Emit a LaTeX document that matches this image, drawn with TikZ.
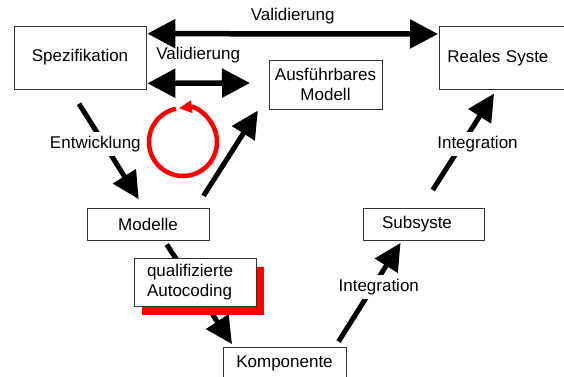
\documentclass[tikz,border=0pt]{standalone}
\usepackage{fontspec}
\setmainfont{Liberation Sans}
\usepackage{tikz}
\usetikzlibrary{arrows.meta,positioning,shadows,calc}
\pgfdeclarelayer{background}
\pgfsetlayers{background,main}
\tikzset{
    frame color/.style={black!80},
    stage box/.style={draw=black!80,line width=0.7pt,fill=white,inner sep=0pt,minimum height=32pt},
    arr/.style={-{Triangle[length=27pt,width=26pt]},line width=5pt},
    darr/.style={{Triangle[length=28pt,width=28pt]}-{Triangle[length=28pt,width=28pt]},line width=5.5pt},
    on line/.style={fill=white,inner xsep=2pt,inner ysep=4pt},
    loop arrow/.style={red,line width=4.5pt,-{Triangle[length=13pt,width=12pt]}},
    red shadow/.style={drop shadow={shadow xshift=8pt,shadow yshift=-9pt,fill=red,opacity=1}},
}
\tikzstyle{every node}=[font=\fontsize{17pt}{20pt}\selectfont]

\begin{document}
\begin{tikzpicture}[x=1pt,y=1pt]
        \useasboundingbox (0,0) rectangle (564,376);
        \node[stage box,minimum width=132pt,minimum height=63pt] (spez) at (80,318.5) {Spezifikation};
        \node[stage box,minimum width=136pt,minimum height=63pt,anchor=north west,text width=120pt,inner xsep=8pt,align=left] (real) at (439,350) {Reales Syste};
        \node[stage box,minimum width=113pt,minimum height=49pt,align=center] (ausf) at (325.5,291.5) {Ausführbares\\Modell};
        \node[stage box,minimum width=122pt] (modelle) at (148,152) {Modelle};
        \node[stage box,red shadow,minimum height=48pt,text width=96pt,inner xsep=13pt,align=left] (autocode) at (195,94) {qualifizierte\\Autocoding};
        \node[stage box,minimum width=123pt,minimum height=33pt] (kompo) at (284.5,12.5) {Komponente};
        \node[stage box,text width=83pt,inner xsep=19pt,align=left] (subsys) at (423.5,152) {Subsyste};

        \draw[darr,shorten <=1pt,shorten >=1pt] ([yshift=-8pt]spez.north east) -- ([yshift=-8pt]real.north west) node[midway,above=6pt,inner sep=1pt] {Validierung};
        \coordinate (valend) at (250,293);
        \draw[darr,shorten <=1pt] ([yshift=6pt]spez.south east) -- (valend) node[midway,above=16pt,inner sep=1pt] {Validierung};
        \draw[arr,shorten <=17pt,shorten >=10pt] ([xshift=-10pt]spez.south) -- ([xshift=-4pt]modelle.north) node[on line,pos=0.46,xshift=-8.7pt] {Entwicklung};
        \draw[arr,shorten <=14pt,shorten >=1.5pt] ([xshift=48pt]modelle.north) -- ([xshift=-10pt]ausf.south west);
        \begin{pgfonlayer}{background}
            \draw[arr,shorten <=5pt,shorten >=3pt] ([xshift=16pt]modelle.south) -- ([xshift=11pt]kompo.north west);
        \end{pgfonlayer}
        \draw[arr,shorten <=6pt,shorten >=3pt] ([xshift=-11pt]kompo.north east) -- ([xshift=39.5pt]subsys.south west) node[on line,pos=0.56,xshift=6pt] {Integration};
        \draw[arr,shorten <=21pt,shorten >=4.5pt] ([xshift=-2pt]subsys.north) -- ([xshift=57.5pt]real.south west) node[on line,pos=0.54,xshift=15.5pt] {Integration};

        % Iterationsschleife
        \draw[loop arrow] (183,234) ++(102:34) arc[start angle=102,end angle=457,radius=34];
    \end{tikzpicture}
\end{document}
